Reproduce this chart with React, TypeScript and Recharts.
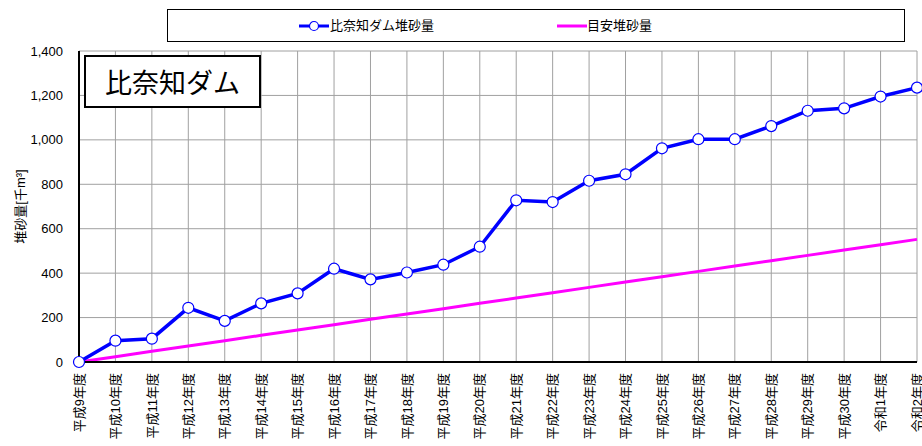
import React from 'react';
import { LineChart, Line, XAxis, YAxis, CartesianGrid, Legend } from 'recharts';

const years = [
  '平成9年度', '平成10年度', '平成11年度', '平成12年度', '平成13年度', '平成14年度',
  '平成15年度', '平成16年度', '平成17年度', '平成18年度', '平成19年度', '平成20年度',
  '平成21年度', '平成22年度', '平成23年度', '平成24年度', '平成25年度', '平成26年度',
  '平成27年度', '平成28年度', '平成29年度', '平成30年度', '令和1年度', '令和2年度',
];

// 比奈知ダム堆砂量 (千m3)
const sediment = [
  0, 96, 105, 244, 185, 264, 309, 420, 372, 403, 438, 519,
  728, 720, 816, 845, 962, 1003, 1003, 1062, 1131, 1142, 1195, 1235,
];

// 目安堆砂量 (千m3)
const guide = [
  0, 24, 48, 72, 96, 120, 144, 168, 192, 216, 240, 264,
  288, 312, 336, 360, 384, 408, 432, 456, 480, 504, 528, 552,
];

const yTicks = [0, 200, 400, 600, 800, 1000, 1200, 1400];

const data = years.map((y, i) => ({ year: y, sediment: sediment[i], guide: guide[i] }));

const FONT = '"Liberation Sans", "Noto Sans CJK JP", sans-serif';
const BLUE = '#0000FF';
const PINK = '#FF00FF';

const YearTick = (props: any) => {
  const { x, y, payload } = props;
  return (
    <text
      x={x}
      y={y}
      transform={`rotate(-90, ${x}, ${y})`}
      textAnchor="end"
      dy="0.36em"
      fontSize={13}
      fontFamily={FONT}
      fill="#000"
    >
      {payload.value}
    </text>
  );
};

const LegendBox = () => (
  <div style={{ position: 'relative', width: 738, height: 33, border: '1px solid #000', background: '#fff', fontFamily: FONT, fontSize: 13, boxSizing: 'border-box' }}>
    <svg width={32} height={12} style={{ position: 'absolute', left: 130, top: 10 }}>
      <line x1={1} y1={6} x2={31} y2={6} stroke={BLUE} strokeWidth={3} />
      <circle cx={16} cy={6} r={4.5} fill="#fff" stroke={BLUE} strokeWidth={1.2} />
    </svg>
    <span style={{ position: 'absolute', left: 162, top: 8, lineHeight: '16px' }}>比奈知ダム堆砂量</span>
    <svg width={30} height={12} style={{ position: 'absolute', left: 389, top: 10 }}>
      <line x1={0} y1={6} x2={30} y2={6} stroke={PINK} strokeWidth={3} />
    </svg>
    <span style={{ position: 'absolute', left: 419, top: 8, lineHeight: '16px' }}>目安堆砂量</span>
  </div>
);

export default function App() {
  return (
    <div style={{ position: 'absolute', left: 0, top: 0, width: 922, height: 446, background: '#fff', overflow: 'hidden' }}>
      <LineChart width={922} height={446} data={data} margin={{ top: 51, right: 5, left: 0, bottom: 0 }}>
        <CartesianGrid stroke="#a0a0a0" strokeWidth={1} />
        <XAxis
          dataKey="year"
          interval={0}
          height={84}
          tick={<YearTick />}
          tickLine={false}
          tickSize={0}
          tickMargin={11}
          axisLine={{ stroke: '#000', strokeWidth: 2 }}
        />
        <XAxis xAxisId="top" orientation="top" dataKey="year" height={0} tick={false} tickLine={false} axisLine={{ stroke: '#000', strokeWidth: 2 }} />
        <YAxis
          width={79}
          domain={[0, 1400]}
          ticks={yTicks}
          interval={0}
          tickFormatter={(v: number) => v.toLocaleString('en-US')}
          tick={{ fontSize: 13, fontFamily: FONT, fill: '#000' }}
          tickLine={false}
          tickSize={6}
          tickMargin={10}
          axisLine={{ stroke: '#000', strokeWidth: 2 }}
          label={{ value: '堆砂量[千m³]', angle: -90, position: 'insideLeft', offset: 20, style: { fontSize: 13, fontFamily: FONT, fill: '#000', textAnchor: 'middle' } }}
        />
        <YAxis yAxisId="right" orientation="right" width={0} domain={[0, 1400]} tick={false} tickLine={false} axisLine={{ stroke: '#000', strokeWidth: 2 }} />
        <Legend
          verticalAlign="middle"
          align="center"
          content={() => <LegendBox />}
          wrapperStyle={{ position: 'absolute', left: 167, top: 9, width: 738, height: 33 }}
        />
        <Line
          type="linear"
          dataKey="guide"
          name="目安堆砂量"
          stroke={PINK}
          strokeWidth={3}
          dot={false}
          activeDot={false}
          isAnimationActive={false}
        />
        <Line
          type="linear"
          dataKey="sediment"
          name="比奈知ダム堆砂量"
          stroke={BLUE}
          strokeWidth={3.5}
          dot={{ r: 5.5, fill: '#fff', stroke: BLUE, strokeWidth: 1.2 }}
          activeDot={false}
          isAnimationActive={false}
        />
      </LineChart>
      <div
        style={{
          position: 'absolute', left: 84, top: 55, width: 177, height: 53, boxSizing: 'border-box',
          border: '2px solid #000', background: '#fff', fontFamily: '"Noto Sans CJK JP", sans-serif',
          fontSize: 27, display: 'flex', alignItems: 'center', justifyContent: 'center', lineHeight: 1,
        }}
      >
        比奈知ダム
      </div>
    </div>
  );
}
